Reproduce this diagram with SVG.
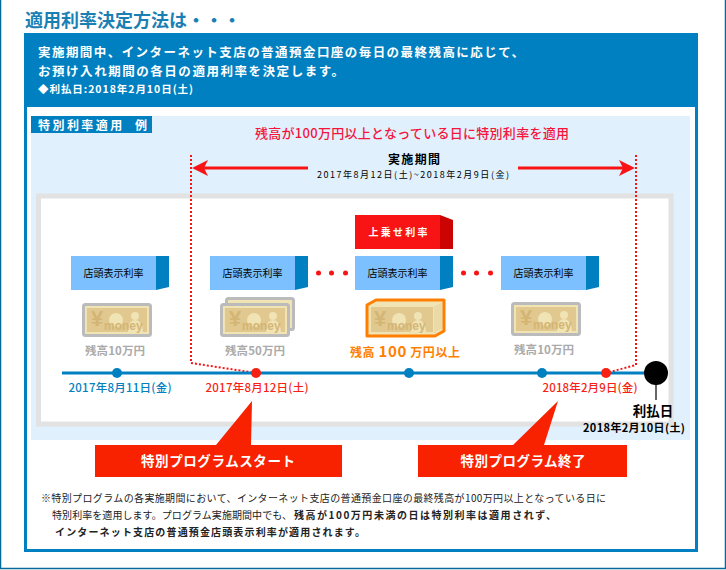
<svg xmlns="http://www.w3.org/2000/svg" width="726" height="570" viewBox="0 0 726 570">
<style>
text{font-family:"Noto Sans CJK JP","Liberation Sans",sans-serif;}
.b{font-weight:700}
.m{font-weight:500}
.rate{fill:#7cc0ff}
.side{fill:#0080c0}
.rt{font-size:10px;fill:#000;text-anchor:middle}
.gy{font-size:11.5px;font-weight:700;fill:#aaa;text-anchor:middle}
.dot{fill:#f81414}
.tl{fill:#0080c0}
.tr{fill:#f81f14}
.note{font-size:10px;fill:#222}
.yen{font-size:22px;font-weight:700;fill:#d4b574;font-family:"Liberation Sans",sans-serif}
.mny{font-size:12px;font-weight:700;fill:#d4b574;font-family:"Liberation Sans",sans-serif}
</style>
<defs>
<g id="bill">
<rect x="1.500" y="1.500" width="67" height="31" rx="2" fill="#f0e3b4" stroke="#bbb" stroke-width="3"/>
<rect x="5" y="5" width="60" height="24" fill="#e0c88f"/>
<circle cx="34" cy="17" r="7" fill="#f0e3b4"/>
<circle cx="53" cy="13" r="4" fill="#f0e3b4"/>
<path d="M46 29q0-12 7-12t8 12z" fill="#f0e3b4"/>
<text class="yen" x="9" y="23">¥</text>
<text class="mny" x="22" y="27">money</text>
</g>
</defs>
<rect width="726" height="570" fill="#fff"/>
<path d="M0.500 0V568.500H725.500V0" fill="none" stroke="#06699c" stroke-width="1.500"/>
<text class="b" x="25" y="27" font-size="18" fill="#1a80b4">適用利率決定方法は・・・</text>
<rect x="25.500" y="34.500" width="671" height="516" fill="#fff" stroke="#0080c0" stroke-width="3"/>
<rect x="24" y="33" width="674" height="74" fill="#0080c0"/>
<text class="b" x="38" y="57" font-size="12.500" fill="#fff" textLength="486">実施期間中、インターネット支店の普通預金口座の毎日の最終残高に応じて、</text>
<text class="b" x="38" y="76" font-size="12.500" fill="#fff" textLength="306">お預け入れ期間の各日の適用利率を決定します。</text>
<text class="b" x="38" y="93" font-size="10.500" fill="#fff" textLength="155">◆利払日:2018年2月10日(土)</text>
<rect x="31" y="116" width="659" height="324" fill="#e0f0fd"/>
<rect x="31" y="116" width="121" height="17" fill="#0080c0"/>
<text class="b" x="38" y="130" font-size="12" fill="#fff" textLength="109" xml:space="preserve">特別利率適用  例</text>
<text class="m" x="255" y="138" font-size="13" fill="#f5143c" textLength="314">残高が100万円以上となっている日に特別利率を適用</text>
<text class="b" x="414" y="164" font-size="12" fill="#000" text-anchor="middle" textLength="52">実施期間</text>
<text x="413" y="178" font-size="9" fill="#000" text-anchor="middle" textLength="192">2017年8月12日(土)~2018年2月9日(金)</text>
<rect x="38.500" y="196" width="632.500" height="228" fill="#fff" stroke="#e2e2e2" stroke-width="5"/>
<g id="connectors" fill="none">
<path d="M191 155V363L256 373" stroke="#f81414" stroke-width="2" stroke-dasharray="2 2"/>
<path d="M636 155V365L606 373" stroke="#f81414" stroke-width="2" stroke-dasharray="2 2"/>
<path d="M308 168H203" stroke="#f81414" stroke-width="3"/>
<path d="M518 168H624" stroke="#f81414" stroke-width="3"/>
<path d="M192 168L208 160L204 168L208 176Z" fill="#f81414"/>
<path d="M635 168L619 160L623 168L619 176Z" fill="#f81414"/>
<path d="M62 373H650" stroke="#0080c0" stroke-width="3"/>
<path d="M656 380V400" stroke="#333" stroke-width="1.500"/>
</g>
<g id="node-rate-1"><rect class="rate" x="71" y="256" width="85" height="34"/><path class="side" d="M156 256H169V287L156 290Z"/><text class="rt" x="113.500" y="277">店頭表示利率</text></g>
<g id="node-rate-2"><rect class="rate" x="210" y="256" width="85" height="34"/><path class="side" d="M295 256H308V287L295 290Z"/><text class="rt" x="252.500" y="277">店頭表示利率</text></g>
<g id="node-rate-3"><rect class="rate" x="355" y="256" width="85" height="34"/><path class="side" d="M440 256H453V287L440 290Z"/><text class="rt" x="397.500" y="277">店頭表示利率</text></g>
<g id="node-rate-4"><rect class="rate" x="501" y="256" width="85" height="34"/><path class="side" d="M586 256H599V287L586 290Z"/><text class="rt" x="543.500" y="277">店頭表示利率</text></g>
<g id="node-bonus"><rect x="355" y="215" width="85" height="34" fill="#f81414"/><path d="M440 215L453 220V249H440Z" fill="#cc0303"/><text class="b" x="398" y="236" font-size="10" fill="#fff" text-anchor="middle" textLength="59">上乗せ利率</text></g>
<g id="dots"><circle class="dot" cx="318.500" cy="273" r="2.500"/><circle class="dot" cx="331.500" cy="273" r="2.500"/><circle class="dot" cx="345.500" cy="273" r="2.500"/><circle class="dot" cx="463.500" cy="273" r="2.500"/><circle class="dot" cx="476.500" cy="273" r="2.500"/><circle class="dot" cx="490.500" cy="273" r="2.500"/></g>
<g id="node-money-1"><use href="#bill" x="82" y="303"/><text class="gy" x="115" y="355" textLength="60">残高10万円</text></g>
<g id="node-money-2"><rect x="226.500" y="298.500" width="67" height="31" rx="2" fill="#f0e3b4" stroke="#bbb" stroke-width="3"/><use href="#bill" x="220" y="303"/><text class="gy" x="255" y="355" textLength="60">残高50万円</text></g>
<g id="node-money-3"><path d="M367 305L376 300H444V331L435 336H367Z" fill="#f0e3b4" stroke="#ff7f00" stroke-width="3" stroke-linejoin="round"/><rect x="371" y="307" width="62" height="25" fill="#e0c88f"/><path d="M435 306V333M437 305V331M439 304V330M441 303V329" stroke="#e0c88f" stroke-width=".7"/><circle cx="399" cy="320" r="7" fill="#f0e3b4"/><circle cx="418" cy="316" r="4" fill="#f0e3b4"/><path d="M411 332q0-12 7-12t8 12z" fill="#f0e3b4"/><text class="yen" x="374" y="326">¥</text><text class="mny" x="387" y="330">money</text><text class="b" x="405" y="357" fill="#ff7f00" text-anchor="middle" textLength="110" font-size="12">残高 <tspan font-size="15">100</tspan> 万円以上</text></g>
<g id="node-money-4"><use href="#bill" x="511" y="302"/><text class="gy" x="544" y="354" textLength="60">残高10万円</text></g>
<g id="timeline">
<circle class="tl" cx="117" cy="373" r="5"/><circle class="tr" cx="256" cy="373" r="5"/><circle class="tl" cx="409" cy="373" r="5"/><circle class="tl" cx="542" cy="373" r="5"/><circle class="tr" cx="606" cy="373" r="5"/><circle cx="656" cy="373" r="12" fill="#000"/>
<text class="m" x="120" y="392" font-size="11.500" fill="#0080c0" text-anchor="middle" textLength="103">2017年8月11日(金)</text>
<text class="m" x="257" y="392" font-size="11.500" fill="#f81f14" text-anchor="middle" textLength="103">2017年8月12日(土)</text>
<text class="m" x="590" y="392" font-size="11.500" fill="#f81f14" text-anchor="middle" textLength="95">2018年2月9日(金)</text>
<text class="b" x="653" y="416" font-size="13.500" fill="#000" text-anchor="middle">利払日</text>
<text class="b" x="634" y="432" font-size="11" fill="#000" text-anchor="middle" textLength="102">2018年2月10日(土)</text>
</g>
<g id="node-start"><path d="M95 445H216L252 401L251 445H342V477H95Z" fill="#f92200"/><text class="b" x="218" y="466" font-size="13.500" fill="#fff" text-anchor="middle" textLength="154">特別プログラムスタート</text></g>
<g id="node-end"><path d="M418 445H513L558 401L544 445H627V477H418Z" fill="#f92200"/><text class="b" x="523" y="466" font-size="13.500" fill="#fff" text-anchor="middle" textLength="125">特別プログラム終了</text></g>
<text class="note" x="41" y="502" textLength="565">※特別プログラムの各実施期間において、インターネット支店の普通預金口座の最終残高が100万円以上となっている日に</text>
<text class="note" x="52" y="519" textLength="240">特別利率を適用します。プログラム実施期間中でも、</text>
<text class="note b" x="294" y="519" textLength="262">残高が100万円未満の日は特別利率は適用されず、</text>
<text class="note b" x="55" y="536" textLength="310">インターネット支店の普通預金店頭表示利率が適用されます。</text>
</svg>
